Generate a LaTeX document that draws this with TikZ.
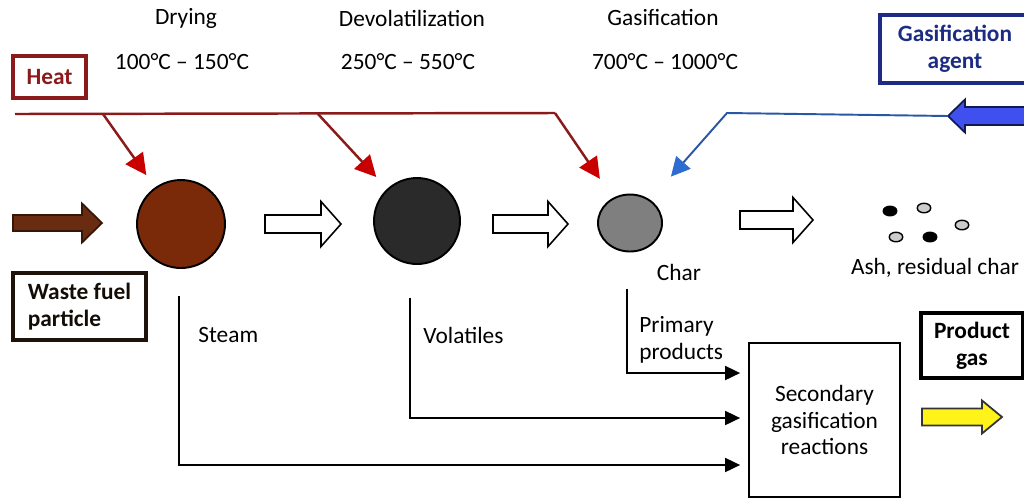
\documentclass[tikz,border=0pt]{standalone}
\usepackage{fontspec}
\setmainfont{Carlito}
\usetikzlibrary{arrows.meta, shapes.geometric}
\definecolor{heatred}{HTML}{8B1A1A}
\definecolor{tipred}{HTML}{C80000}
\definecolor{navy}{HTML}{1C2C84}
\definecolor{lineblue}{HTML}{2A56A8}
\definecolor{tipblue}{HTML}{2E6CD2}
\definecolor{fillblue}{HTML}{3F50EE}
\definecolor{dryfill}{HTML}{7A2A08}
\definecolor{devolfill}{HTML}{2A2A2A}
\definecolor{charfill}{HTML}{7F7F7F}
\definecolor{brownfill}{HTML}{6A2C10}
\newcommand{\diagfont}{\fontsize{13.3}{15.3}\selectfont}
\newcommand{\fatarrow}[7]{
	\draw[#1]({#2},{#4-#5})--({#3-(#7)},{#4-#5})--({#3-(#7)},{#4-#6})--({#3},{#4})--({#3-(#7)},{#4+#6})--({#3-(#7)},{#4+#5})--({#2},{#4+#5})--cycle
}
\tikzset{
	stage/.style={circle, draw=black, line width=1.1pt, minimum size=1.76cm},
	labelbox/.style={draw, line width=1.9pt, font=\diagfont\bfseries, align=center},
	ash/.style={ellipse, draw=black, line width=0.8pt, minimum width=0.27cm, minimum height=0.19cm},
	heatline/.style={draw=heatred, line width=1.4pt},
	heatarrow/.style={heatline, -{Triangle[length=0.42cm, width=0.42cm, color=tipred, fill=tipred]}, shorten >=0.3cm},
	agentarrow/.style={draw=lineblue, line width=1.1pt, -{Triangle[length=0.38cm, width=0.38cm, color=tipblue, fill=tipblue]}, shorten >=0.62cm},
	flow/.style={draw=black, line width=1pt, -{Triangle[length=0.3cm, width=0.28cm]}, shorten >=0.16cm},
	brownarrow/.style={fill=brownfill, draw=brownfill!50!black, line width=1pt},
	hollowarrow/.style={fill=white, draw=black, line width=0.9pt},
	bluearrow/.style={fill=fillblue, draw=navy!60!black, line width=1pt},
	yellowarrow/.style={fill=yellow!90!white, draw=black!80, line width=1pt}
}
\begin{document}
\begin{tikzpicture}[x=0.02cm, y=-0.02cm, inner sep=0pt, font=\diagfont]
	\useasboundingbox (0,0) rectangle (1024,498);
	\node (tdry) at (186,18) {Drying};
	\node (tdevol) at (412,18) {Devolatilization};
	\node (tgasif) at (663,18) {Gasification};
	\node (tempdry) at (182,62) {100°C – 150°C};
	\node (tempdevol) at (408,62) {250°C – 550°C};
	\node (tempgasif) at (665,62) {700°C – 1000°C};
	\node[labelbox, draw=heatred, text=heatred, minimum width=1.46cm, minimum height=0.84cm] (heat) at (49.5,77) {Heat};
	\node[labelbox, draw=navy, text=navy, minimum width=3cm, minimum height=1.36cm] (agent) at (955,49) {Gasification\\agent};
	\node[labelbox, draw=black!85!brown, text=black!90!brown, align=left, minimum width=2.66cm, minimum height=1.34cm] (waste) at (79.5,306.5) {Waste fuel\\particle};
	\node[labelbox, draw=black, minimum width=2.04cm, minimum height=1.3cm] (product) at (972,345.5) {Product\\gas};
	\node[draw, line width=1pt, align=center, minimum width=3.02cm, minimum height=3.08cm] (secondary) at (824.5,420) {Secondary\\gasification\\reactions};
	\node[stage, fill=dryfill] (dry) at (181,224) {};
	\node[stage, fill=devolfill, minimum size=1.72cm] (devol) at (417,221) {};
	\node[ellipse, draw=black, line width=1.1pt, fill=charfill, minimum width=1.28cm, minimum height=1.14cm] (char) at (630,223) {};
	\node (charlbl) at (679,272) {Char};
	\node[ash, fill=black] (ash1) at (890,211) {};
	\node[ash, fill=black!20] (ash2) at (924,208) {};
	\node[ash, fill=black!20] (ash3) at (962,225) {};
	\node[ash, fill=black!20] (ash4) at (896,237) {};
	\node[ash, fill=black] (ash5) at (930,237) {};
	\node (ashlbl) at (935,268) {Ash, residual char};
	\node[anchor=west] (steam) at (198,335) {Steam};
	\node[anchor=west] (volat) at (423,335) {Volatiles};
	\node[anchor=west, align=left] (primary) at (639,340) {Primary\\products};
	\fatarrow{brownarrow}{13}{102}{223}{8}{19.5}{20};
	\fatarrow{hollowarrow}{265}{341}{224}{9}{22.5}{20};
	\fatarrow{hollowarrow}{493}{568}{224}{9}{22.5}{20};
	\fatarrow{hollowarrow}{740}{813}{220}{9}{22.5}{20};
	\fatarrow{bluearrow}{1030}{948}{116}{9}{16.5}{-17};
	\fatarrow{yellowarrow}{922}{1002}{417}{8.5}{16.5}{20};
	\coordinate (hl0) at (15,114);
	\coordinate (hl1) at (103,114);
	\coordinate (hl2) at (318,114);
	\coordinate (hl3) at (555,113);
	\draw[heatline] (hl0) -- (hl3);
	\draw[heatarrow] (hl1) -- (dry);
	\draw[heatarrow, shorten >=0.32cm] (hl2) -- (devol);
	\draw[heatarrow, shorten >=0.46cm] (hl3) -- (char);
	\coordinate (ag0) at (948,116);
	\coordinate (ag1) at (727,113);
	\draw[agentarrow] (ag0) -- (ag1) -- (char);
	\coordinate (st0) at (179,296);
	\coordinate (vo0) at (410,298);
	\coordinate (pp0) at (627,289);
	\draw[flow] (pp0) |- ([yshift=0.94cm]secondary.west);
	\draw[flow] (vo0) |- ([yshift=0.04cm]secondary.west);
	\draw[flow] (st0) |- ([yshift=-0.9cm]secondary.west);
\end{tikzpicture}
\end{document}
